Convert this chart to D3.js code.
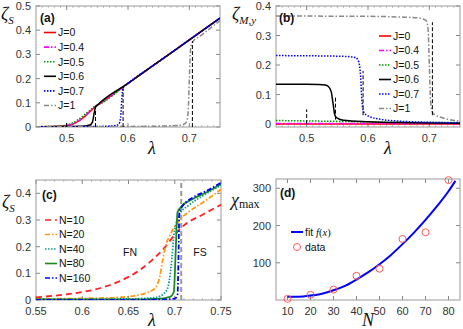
<!DOCTYPE html>
<html>
<head>
<meta charset="utf-8">
<script src="https://cdn.jsdelivr.net/npm/d3@7/dist/d3.min.js"></script>
<style>
  body { margin: 0; background: #fff; }
  svg { display: block; font-family: "Liberation Sans", Arial, sans-serif; }
  .tick-label { font-size: 11px; fill: #333; }
  .leg { font-size: 10.5px; fill: #111; }
  .plabel { font-size: 12px; font-weight: bold; fill: #111; }
  .math { font-family: "Liberation Serif", "Times New Roman", serif; font-style: italic; fill: #111; }
</style>
</head>
<body>
<svg id="fig" width="463" height="329"></svg>
<script>
// ---------- panel (a): zeta_S vs lambda ----------
var aJ0x   = [0.45, 0.49, 0.5, 0.51, 0.52, 0.53, 0.54, 0.547, 0.55, 0.6, 0.65, 0.7, 0.75];
var aJ0y   = [0.001, 0.003, 0.006, 0.012, 0.025, 0.045, 0.068, 0.085, 0.09, 0.18, 0.27, 0.36, 0.45];
var aJ04y  = [0.001, 0.003, 0.006, 0.013, 0.027, 0.047, 0.07, 0.086, 0.09, 0.18, 0.27, 0.36, 0.45];
var aJ05y  = [0.001, 0.004, 0.008, 0.017, 0.033, 0.053, 0.073, 0.087, 0.09, 0.18, 0.27, 0.36, 0.45];
var aJ06x  = [0.45, 0.5, 0.53, 0.538, 0.542, 0.545, 0.547, 0.55, 0.6, 0.65, 0.7, 0.75];
var aJ06y  = [0.001, 0.002, 0.004, 0.008, 0.02, 0.06, 0.082, 0.09, 0.18, 0.27, 0.36, 0.45];
var aJ07x  = [0.45, 0.55, 0.58, 0.585, 0.588, 0.59, 0.592, 0.6, 0.65, 0.7, 0.75];
var aJ07y  = [0.001, 0.002, 0.006, 0.012, 0.04, 0.12, 0.162, 0.18, 0.27, 0.36, 0.45];
var aJ1x   = [0.45, 0.6, 0.68, 0.69, 0.695, 0.698, 0.7, 0.702, 0.705, 0.72, 0.75];
var aJ1y   = [0.001, 0.002, 0.006, 0.01, 0.02, 0.06, 0.2, 0.32, 0.35, 0.38, 0.44];
var aMarkX   = [0.5, 0.547, 0.592, 0.705];
var aMarkTop = [0.025, 0.085, 0.165, 0.355];

// ---------- panel (b): zeta_{M,y} vs lambda ----------
var bJ0x  = [0.45, 0.75];
var bJ0y  = [0, 0];
var bJ04y = [0.002, 0.002];
var bJ05x = [0.45, 0.55, 0.65, 0.75];
var bJ05y = [0.012, 0.009, 0.006, 0.005];
var bJ06x = [0.45, 0.5, 0.52, 0.53, 0.535, 0.54, 0.543, 0.546, 0.55, 0.56, 0.6, 0.65, 0.75];
var bJ06y = [0.135, 0.135, 0.134, 0.132, 0.128, 0.11, 0.07, 0.03, 0.02, 0.013, 0.008, 0.005, 0.003];
var bJ07x = [0.45, 0.55, 0.57, 0.58, 0.585, 0.588, 0.59, 0.593, 0.6, 0.62, 0.65, 0.7, 0.75];
var bJ07y = [0.232, 0.23, 0.228, 0.225, 0.21, 0.16, 0.08, 0.04, 0.028, 0.016, 0.01, 0.006, 0.004];
var bJ1x  = [0.45, 0.6, 0.66, 0.68, 0.69, 0.695, 0.698, 0.7, 0.702, 0.705, 0.71, 0.72, 0.75];
var bJ1y  = [0.366, 0.365, 0.362, 0.36, 0.356, 0.35, 0.32, 0.2, 0.08, 0.04, 0.03, 0.022, 0.01];
var bMarkX    = [0.5, 0.547, 0.592, 0.705];
var bMarkLow  = [0, 0.015, 0.03, 0.03];
var bMarkHigh = [0.05, 0.095, 0.18, 0.345];

// ---------- panel (c): zeta_S vs lambda, system sizes ----------
var cN10x  = [0.55, 0.58, 0.6, 0.62, 0.64, 0.66, 0.68, 0.69, 0.7, 0.71, 0.73, 0.75];
var cN10y  = [0.01, 0.02, 0.03, 0.045, 0.07, 0.107, 0.164, 0.2, 0.245, 0.28, 0.32, 0.357];
var cN20x  = [0.55, 0.6, 0.64, 0.66, 0.67, 0.675, 0.68, 0.684, 0.687, 0.69, 0.695, 0.7, 0.705, 0.715, 0.73, 0.75];
var cN20y  = [0.004, 0.006, 0.01, 0.018, 0.027, 0.035, 0.05, 0.09, 0.15, 0.2, 0.245, 0.275, 0.3, 0.33, 0.365, 0.415];
var cN40x  = [0.55, 0.62, 0.66, 0.68, 0.69, 0.694, 0.697, 0.699, 0.701, 0.705, 0.715, 0.73, 0.75];
var cN40y  = [0.002, 0.003, 0.005, 0.01, 0.03, 0.07, 0.16, 0.24, 0.28, 0.32, 0.355, 0.39, 0.43];
var cN80x  = [0.55, 0.65, 0.68, 0.695, 0.699, 0.701, 0.703, 0.707, 0.72, 0.735, 0.75];
var cN80y  = [0.002, 0.002, 0.004, 0.012, 0.03, 0.18, 0.33, 0.35, 0.38, 0.405, 0.435];
var cN160x = [0.55, 0.68, 0.7, 0.703, 0.704, 0.705, 0.707, 0.72, 0.735, 0.75];
var cN160y = [0.0, 0.001, 0.005, 0.02, 0.15, 0.33, 0.345, 0.385, 0.41, 0.44];
var cCritical = 0.707;

// ---------- panel (d): chi_max vs N ----------
var dN      = [10, 20, 30, 40, 50, 60, 70, 80];
var dChi    = [3, 14, 28, 65, 84, 164, 182, 322];
var dFitN   = [10, 15, 20, 25, 30, 35, 40, 45, 50, 55, 60, 65, 70, 75, 80, 83];
var dFitChi = [9, 9, 12, 17, 26, 38, 55, 74, 96, 121, 150, 181, 215, 252, 292, 320];

var svg = d3.select("#fig");
svg.append("rect").attr("width", 463).attr("height", 329).attr("fill", "#fff");

function fmt(v) { return String(+v.toFixed(2)); }

// draws the axis frame, ticks and tick labels of one panel
function frame(x, y, xt, yt, minorX) {
  var g = svg.append("g");
  var x0 = x.range()[0], x1 = x.range()[1], y0 = y.range()[0], y1 = y.range()[1];
  if (minorX) {
    minorX.forEach(function (v) {
      g.append("line").attr("x1", x(v)).attr("x2", x(v)).attr("y1", y0).attr("y2", y0 - 2).attr("stroke", "#999").attr("stroke-width", 0.6);
      g.append("line").attr("x1", x(v)).attr("x2", x(v)).attr("y1", y1).attr("y2", y1 + 2).attr("stroke", "#999").attr("stroke-width", 0.6);
    });
  }
  xt.forEach(function (v) {
    g.append("line").attr("x1", x(v)).attr("x2", x(v)).attr("y1", y0).attr("y2", y0 - 4).attr("stroke", "#888");
    g.append("line").attr("x1", x(v)).attr("x2", x(v)).attr("y1", y1).attr("y2", y1 + 4).attr("stroke", "#888");
    g.append("text").attr("class", "tick-label").attr("x", x(v)).attr("y", y0 + 15)
      .attr("text-anchor", "middle").text(fmt(v));
  });
  yt.forEach(function (v) {
    g.append("line").attr("x1", x0).attr("x2", x0 + 4).attr("y1", y(v)).attr("y2", y(v)).attr("stroke", "#888");
    g.append("line").attr("x1", x1).attr("x2", x1 - 4).attr("y1", y(v)).attr("y2", y(v)).attr("stroke", "#888");
    g.append("text").attr("class", "tick-label").attr("x", x0 - 5).attr("y", y(v) + 4)
      .attr("text-anchor", "end").text(fmt(v));
  });
  g.append("rect").attr("x", x0).attr("y", y1).attr("width", x1 - x0).attr("height", y0 - y1)
    .attr("fill", "none").attr("stroke", "#999").attr("stroke-width", 1);
}

function curve(g, x, y, xs, ys, color, dash, w) {
  var pts = xs.map(function (v, i) { return [v, ys[i]]; });
  g.append("path")
    .attr("d", d3.line().x(function (d) { return x(d[0]); }).y(function (d) { return y(d[1]); }).curve(d3.curveMonotoneX)(pts))
    .attr("fill", "none").attr("stroke", color).attr("stroke-width", w || 1.5)
    .attr("stroke-dasharray", dash || null);
}

function clipFor(id, x, y) {
  svg.append("clipPath").attr("id", id).append("rect")
    .attr("x", x.range()[0]).attr("y", y.range()[1])
    .attr("width", x.range()[1] - x.range()[0]).attr("height", y.range()[0] - y.range()[1]);
  return svg.append("g").attr("clip-path", "url(#" + id + ")");
}

function legend(items, lx, ly, step) {
  items.forEach(function (it, i) {
    var yy = ly + i * step;
    svg.append("line").attr("x1", lx).attr("x2", lx + 12).attr("y1", yy).attr("y2", yy)
      .attr("stroke", it.color).attr("stroke-width", 1.6).attr("stroke-dasharray", it.dash || null);
    svg.append("text").attr("class", "leg").attr("x", lx + 14).attr("y", yy + 3.8).text(it.label);
  });
}

var DASHDOT = "5,2,1.5,2", DOT = "1.5,1.5", DASH = "6,4";
var lamMinor = d3.range(46, 75).map(function (v) { return v / 100; });

// ===== (a) =====
var xa = d3.scaleLinear().domain([0.45, 0.75]).range([36, 220]);
var ya = d3.scaleLinear().domain([0, 0.5]).range([127, 6]);
frame(xa, ya, [0.5, 0.6, 0.7], [0, 0.1, 0.2, 0.3, 0.4, 0.5], lamMinor);
var ga = clipFor("ca", xa, ya);
var aSeries = [
  { label: "J=0",   xs: aJ0x,  ys: aJ0y,  color: "#ff0000", dash: null },
  { label: "J=0.4", xs: aJ0x,  ys: aJ04y, color: "#ff00ff", dash: DASHDOT },
  { label: "J=0.5", xs: aJ0x,  ys: aJ05y, color: "#009a00", dash: DOT },
  { label: "J=0.6", xs: aJ06x, ys: aJ06y, color: "#000000", dash: null },
  { label: "J=0.7", xs: aJ07x, ys: aJ07y, color: "#0000ff", dash: DOT },
  { label: "J=1",   xs: aJ1x,  ys: aJ1y,  color: "#888888", dash: DASHDOT }
];
aSeries.forEach(function (s) { curve(ga, xa, ya, s.xs, s.ys, s.color, s.dash); });
aMarkX.forEach(function (v, i) {
  ga.append("line").attr("x1", xa(v)).attr("x2", xa(v)).attr("y1", ya(0)).attr("y2", ya(aMarkTop[i]))
    .attr("stroke", "#000").attr("stroke-width", 1).attr("stroke-dasharray", "4,2");
});
legend(aSeries, 44, 32.5, 14.6);
svg.append("text").attr("class", "plabel").attr("x", 40).attr("y", 22).text("(a)");

// ===== (b) =====
var xb = d3.scaleLinear().domain([0.45, 0.75]).range([276, 460]);
var yb = d3.scaleLinear().domain([-0.01, 0.4]).range([127, 6]);
frame(xb, yb, [0.5, 0.6, 0.7], [0, 0.1, 0.2, 0.3, 0.4], lamMinor);
var gb = clipFor("cb", xb, yb);
var bSeries = [
  { label: "J=0",   xs: bJ0x,  ys: bJ0y,  color: "#ff0000", dash: null },
  { label: "J=0.4", xs: bJ0x,  ys: bJ04y, color: "#ff00ff", dash: DASHDOT },
  { label: "J=0.5", xs: bJ05x, ys: bJ05y, color: "#009a00", dash: DOT },
  { label: "J=0.6", xs: bJ06x, ys: bJ06y, color: "#000000", dash: null },
  { label: "J=0.7", xs: bJ07x, ys: bJ07y, color: "#0000ff", dash: DOT },
  { label: "J=1",   xs: bJ1x,  ys: bJ1y,  color: "#888888", dash: DASHDOT }
];
bSeries.forEach(function (s) { curve(gb, xb, yb, s.xs, s.ys, s.color, s.dash); });
bMarkX.forEach(function (v, i) {
  gb.append("line").attr("x1", xb(v)).attr("x2", xb(v)).attr("y1", yb(bMarkLow[i])).attr("y2", yb(bMarkHigh[i]))
    .attr("stroke", "#000").attr("stroke-width", 1).attr("stroke-dasharray", "4,2");
});
legend(bSeries, 379, 36, 14.5);
svg.append("text").attr("class", "plabel").attr("x", 279).attr("y", 22).text("(b)");

// ===== (c) =====
var xc = d3.scaleLinear().domain([0.55, 0.75]).range([36, 221]);
var yc = d3.scaleLinear().domain([0, 0.45]).range([300, 180]);
frame(xc, yc, [0.55, 0.6, 0.65, 0.7, 0.75], [0, 0.1, 0.2, 0.3, 0.4], d3.range(56, 75).map(function (v) { return v / 100; }));
var gc = clipFor("cc", xc, yc);
gc.append("line").attr("x1", xc(cCritical)).attr("x2", xc(cCritical)).attr("y1", yc.range()[0]).attr("y2", yc.range()[1])
  .attr("stroke", "#9a9a9a").attr("stroke-width", 2).attr("stroke-dasharray", "5,3");
var cSeries = [
  { label: "N=10",  xs: cN10x,  ys: cN10y,  color: "#ff2020", dash: DASH },
  { label: "N=20",  xs: cN20x,  ys: cN20y,  color: "#ff9a10", dash: DASHDOT },
  { label: "N=40",  xs: cN40x,  ys: cN40y,  color: "#109a9a", dash: DOT },
  { label: "N=80",  xs: cN80x,  ys: cN80y,  color: "#1a8a1a", dash: null },
  { label: "N=160", xs: cN160x, ys: cN160y, color: "#0000ff", dash: DASHDOT }
];
cSeries.forEach(function (s) { curve(gc, xc, yc, s.xs, s.ys, s.color, s.dash, 1.8); });
legend(cSeries, 45, 220, 14.5);
svg.append("text").attr("class", "plabel").attr("x", 42).attr("y", 199).text("(c)");
svg.append("text").attr("class", "leg").attr("x", 130).attr("y", 256).attr("text-anchor", "middle").text("FN");
svg.append("text").attr("class", "leg").attr("x", 200).attr("y", 256).attr("text-anchor", "middle").text("FS");

// ===== (d) =====
var xd = d3.scaleLinear().domain([5, 85]).range([276, 460]);
var yd = d3.scaleLinear().domain([0, 325]).range([300, 179]);
frame(xd, yd, [10, 20, 30, 40, 50, 60, 70, 80], [100, 200, 300], null);
var gd = clipFor("cd", xd, yd);
curve(gd, xd, yd, dFitN, dFitChi, "#0000ff", null, 2);
dN.forEach(function (n, i) {
  svg.append("circle").attr("cx", xd(n)).attr("cy", yd(dChi[i])).attr("r", 3.5)
    .attr("fill", "none").attr("stroke", "#ff5a5a").attr("stroke-width", 1);
});
svg.append("line").attr("x1", 291).attr("x2", 303).attr("y1", 232).attr("y2", 232).attr("stroke", "#0000ff").attr("stroke-width", 2);
var ft = svg.append("text").attr("class", "leg").attr("x", 305).attr("y", 236);
ft.append("tspan").text("fit ");
ft.append("tspan").attr("class", "math").text("f");
ft.append("tspan").attr("font-family", "Liberation Serif, serif").text("(");
ft.append("tspan").attr("class", "math").text("x");
ft.append("tspan").attr("font-family", "Liberation Serif, serif").text(")");
svg.append("circle").attr("cx", 297).attr("cy", 247).attr("r", 3.5).attr("fill", "none").attr("stroke", "#ff5a5a");
svg.append("text").attr("class", "leg").attr("x", 305).attr("y", 251).text("data");
svg.append("text").attr("class", "plabel").attr("x", 280).attr("y", 197).text("(d)");

// ===== axis titles =====
function zeta(x, y, sub) {
  var t = svg.append("text").attr("class", "math").attr("x", x).attr("y", y).attr("font-size", 18);
  t.append("tspan").text("ζ");
  t.append("tspan").attr("font-size", 11).attr("dy", 4).text(sub);
}
zeta(1, 20, "S");
zeta(232, 20, "M,y");
zeta(2, 208, "S");
var chi = svg.append("text").attr("class", "math").attr("x", 231).attr("y", 206).attr("font-size", 18);
chi.append("tspan").text("χ");
chi.append("tspan").attr("font-size", 12).attr("font-style", "normal").attr("dy", 2).text("max");

function xtitle(x, y, s) {
  svg.append("text").attr("class", "math").attr("x", x).attr("y", y).attr("font-size", 18)
    .attr("text-anchor", "middle").text(s);
}
xtitle(152, 154, "λ");
xtitle(388, 154, "λ");
xtitle(152, 326, "λ");
xtitle(368, 326, "N");
</script>
</body>
</html>
